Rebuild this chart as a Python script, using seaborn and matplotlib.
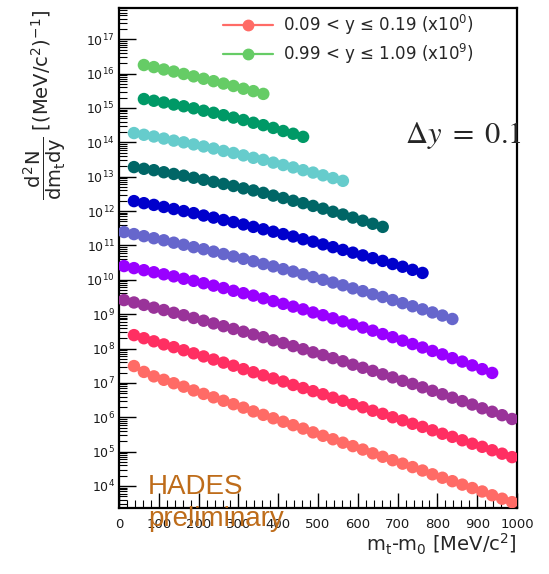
import numpy as np
import pandas as pd
import matplotlib
matplotlib.use("Agg")
import matplotlib.pyplot as plt
from matplotlib.lines import Line2D
from matplotlib.ticker import LogLocator, MultipleLocator, NullFormatter
import seaborn as sns

# ---------------- data ----------------
# m_t - m_0 bin centres [MeV/c^2]
mt_centers = [12.5, 37.5, 62.5, 87.5, 112.5, 137.5, 162.5, 187.5, 212.5, 237.5,
              262.5, 287.5, 312.5, 337.5, 362.5, 387.5, 412.5, 437.5, 462.5, 487.5,
              512.5, 537.5, 562.5, 587.5, 612.5, 637.5, 662.5, 687.5, 712.5, 737.5,
              762.5, 787.5, 812.5, 837.5, 862.5, 887.5, 912.5, 937.5, 962.5, 987.5]

# rapidity bins (bottom -> top), scaled by 10^0 ... 10^9
y_bins = ["0.09-0.19", "0.19-0.29", "0.29-0.39", "0.39-0.49", "0.49-0.59",
          "0.59-0.69", "0.69-0.79", "0.79-0.89", "0.89-0.99", "0.99-1.09"]
# index of first populated m_t bin for each rapidity bin
first_bin = [1, 1, 0, 0, 0, 1, 1, 1, 2, 2]

# log10 of d2N/(dmt dy) (scaled)
log_y_0 = [7.49, 7.32, 7.19, 7.09, 6.99, 6.89, 6.78, 6.68, 6.58, 6.48, 6.38, 6.28, 6.17,
           6.07, 5.97, 5.87, 5.77, 5.67, 5.56, 5.46, 5.36, 5.26, 5.16, 5.06, 4.95, 4.85,
           4.75, 4.65, 4.55, 4.45, 4.34, 4.24, 4.14, 4.04, 3.94, 3.84, 3.73, 3.63, 3.53]
log_y_1 = [8.39, 8.30, 8.21, 8.12, 8.04, 7.95, 7.86, 7.77, 7.68, 7.59, 7.50, 7.40, 7.31,
           7.22, 7.13, 7.04, 6.94, 6.85, 6.76, 6.67, 6.57, 6.48, 6.38, 6.29, 6.19, 6.10,
           6.00, 5.91, 5.81, 5.72, 5.62, 5.52, 5.43, 5.33, 5.23, 5.14, 5.04, 4.94, 4.84]
log_y_2 = [9.41, 9.34, 9.27, 9.19, 9.12, 9.04, 8.97, 8.89, 8.81, 8.73, 8.65, 8.57, 8.49,
           8.41, 8.33, 8.24, 8.16, 8.07, 7.98, 7.89, 7.81, 7.72, 7.63, 7.53, 7.44, 7.35,
           7.25, 7.16, 7.06, 6.97, 6.87, 6.77, 6.67, 6.57, 6.47, 6.37, 6.26, 6.16, 6.06, 5.95]
log_y_3 = [10.40, 10.34, 10.28, 10.22, 10.16, 10.10, 10.03, 9.97, 9.90, 9.83, 9.76, 9.68,
           9.61, 9.54, 9.46, 9.38, 9.30, 9.22, 9.14, 9.05, 8.97, 8.88, 8.79, 8.70, 8.61,
           8.52, 8.42, 8.33, 8.23, 8.13, 8.03, 7.93, 7.83, 7.72, 7.62, 7.51, 7.40, 7.29]
log_y_4 = [11.39, 11.33, 11.27, 11.21, 11.15, 11.08, 11.02, 10.95, 10.89, 10.82, 10.75,
           10.68, 10.61, 10.54, 10.46, 10.39, 10.31, 10.24, 10.16, 10.08, 10.00, 9.92,
           9.84, 9.75, 9.67, 9.58, 9.50, 9.41, 9.32, 9.23, 9.14, 9.05, 8.96, 8.86]
log_y_5 = [12.29, 12.23, 12.18, 12.12, 12.06, 12.00, 11.94, 11.87, 11.81, 11.74, 11.68,
           11.61, 11.54, 11.47, 11.40, 11.33, 11.26, 11.18, 11.11, 11.03, 10.95, 10.87,
           10.79, 10.71, 10.63, 10.55, 10.46, 10.38, 10.29, 10.20]
log_y_6 = [13.28, 13.23, 13.19, 13.13, 13.08, 13.03, 12.97, 12.91, 12.85, 12.79, 12.73,
           12.66, 12.60, 12.53, 12.45, 12.38, 12.30, 12.23, 12.15, 12.07, 11.98, 11.90,
           11.81, 11.72, 11.63, 11.54]
log_y_7 = [14.27, 14.22, 14.17, 14.11, 14.05, 14.00, 13.94, 13.88, 13.82, 13.75, 13.69,
           13.62, 13.55, 13.49, 13.41, 13.34, 13.27, 13.19, 13.12, 13.04, 12.96, 12.88]
log_y_8 = [15.26, 15.21, 15.16, 15.10, 15.05, 14.99, 14.92, 14.86, 14.79, 14.72, 14.65,
           14.57, 14.50, 14.42, 14.33, 14.25, 14.16]
log_y_9 = [16.25, 16.19, 16.12, 16.06, 15.99, 15.92, 15.85, 15.78, 15.71, 15.64, 15.56,
           15.49, 15.41]

log_series = [log_y_0, log_y_1, log_y_2, log_y_3, log_y_4,
              log_y_5, log_y_6, log_y_7, log_y_8, log_y_9]

legend_labels = ["0.09 < y \u2264 0.19 (x10$^{0}$)", "0.99 < y \u2264 1.09 (x10$^{9}$)"]

# ---------------- style ----------------
colors = ["#FF6B66", "#FF2F62", "#993399", "#9900FF", "#6666CC",
          "#0000CC", "#006666", "#66CCCC", "#009966", "#66CC66"]

sns.set_style("white")
plt.rcParams["font.family"] = ["DejaVu Sans"]
plt.rcParams["mathtext.fontset"] = "custom"
plt.rcParams["mathtext.rm"] = "DejaVu Sans"
plt.rcParams["mathtext.it"] = "DejaVu Sans"
plt.rcParams["mathtext.bf"] = "DejaVu Sans:bold"

rows = []
for name, start, vals in zip(y_bins, first_bin, log_series):
    for i, v in enumerate(vals):
        rows.append({"mt": mt_centers[start + i], "val": 10.0 ** v, "ybin": name})
df = pd.DataFrame(rows)

fig = plt.figure(figsize=(5.49, 5.74), dpi=100)
ax = fig.add_axes([0.2168, 0.1150, 0.7250, 0.8711])

sns.scatterplot(data=df, x="mt", y="val", hue="ybin", hue_order=y_bins,
                palette=dict(zip(y_bins, colors)), s=80, edgecolor="none",
                linewidth=0, legend=False, ax=ax, zorder=3)

ax.set_yscale("log")
ax.set_xlim(0, 1000)
ax.set_ylim(10 ** 3.36, 10 ** 17.91)

# ticks ROOT-like: inward, left and bottom only
ax.xaxis.set_major_locator(MultipleLocator(100))
ax.xaxis.set_minor_locator(MultipleLocator(20))
ax.yaxis.set_major_locator(LogLocator(base=10, numticks=30))
ax.yaxis.set_minor_locator(LogLocator(base=10, subs=np.arange(2, 10), numticks=30))
ax.yaxis.set_minor_formatter(NullFormatter())
ax.tick_params(axis="both", which="both", direction="in", top=False, right=False,
               bottom=True, left=True, color="black", labelcolor="#1a1a1a")
ax.tick_params(axis="y", which="major", length=12, width=1.0, labelsize=9, pad=3)
ax.tick_params(axis="y", which="minor", length=6, width=0.8)
ax.tick_params(axis="x", which="major", length=11, width=1.0, labelsize=9.5, pad=7)
ax.tick_params(axis="x", which="minor", length=6, width=0.8)
for sp in ax.spines.values():
    sp.set_visible(True)
    sp.set_color("black")
    sp.set_linewidth(1.6)

ax.set_xlabel("m$_{t}$-m$_{0}$ [MeV/c$^{2}$]", fontsize=14, loc="right")
ax.xaxis.set_label_coords(1.0, -0.048)
ax.set_ylabel(r"$\dfrac{d^{2}N}{dm_{t}dy}$ [(MeV/c$^{2}$)$^{-1}$]", fontsize=14, loc="top")
ax.yaxis.set_label_coords(-0.128, 0.997)

# legend
handles = [Line2D([], [], color=colors[0], marker="o", markersize=7.5, lw=1.6),
           Line2D([], [], color=colors[-1], marker="o", markersize=7.5, lw=1.6)]
ax.legend(handles, legend_labels, loc="upper left", bbox_to_anchor=(0.262, 0.99),
          frameon=False, fontsize=12, handlelength=3.0, handletextpad=0.6,
          labelspacing=0.3, borderpad=0, borderaxespad=0)

ax.text(0.718, 0.73, r"$\Delta y\ =\ 0.1$", transform=ax.transAxes, fontsize=22,
        math_fontfamily="stix", ha="left", va="baseline", clip_on=False)

ax.text(0.073, 0.028, "HADES", transform=ax.transAxes, fontsize=20,
        family=["Liberation Sans", "DejaVu Sans"], color="#BE6C1A", ha="left",
        va="baseline", clip_on=False, zorder=5)
ax.text(0.073, -0.036, "preliminary", transform=ax.transAxes, fontsize=20,
        family=["Liberation Sans", "DejaVu Sans"], color="#BE6C1A", ha="left",
        va="baseline", clip_on=False, zorder=5)

fig.savefig("out.png", dpi=100)
